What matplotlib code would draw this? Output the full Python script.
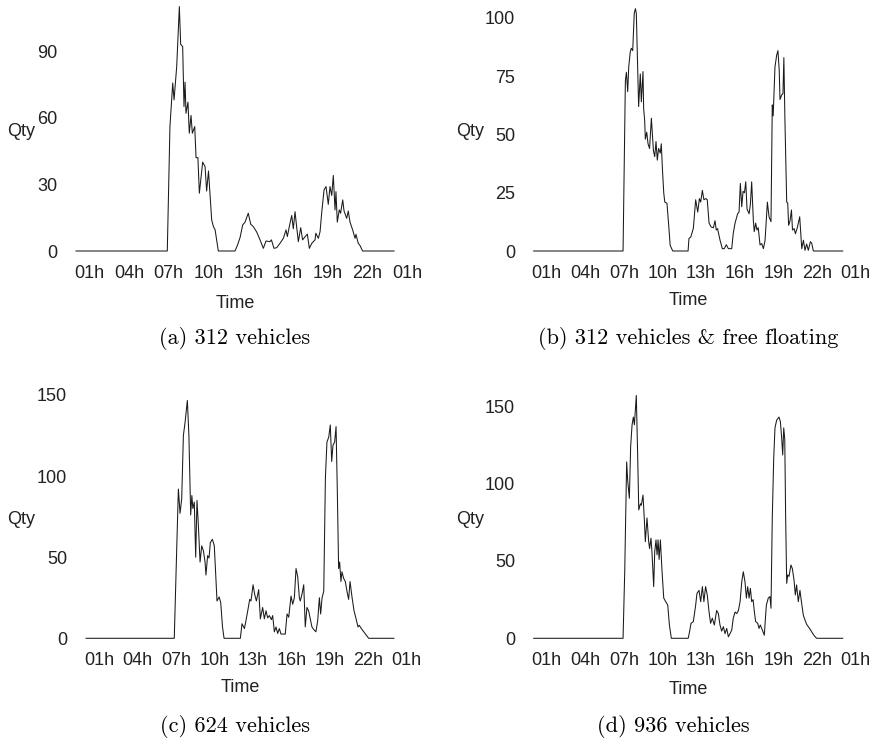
import matplotlib
matplotlib.use("Agg")
import matplotlib.pyplot as plt

# ── data (hour of day, vehicles in use) ──
tick_hours = [1, 4, 7, 10, 13, 16, 19, 22, 25]
tick_labels = ["01h", "04h", "07h", "10h", "13h", "16h", "19h", "22h", "01h"]

a_hours = [0, 6.89, 7.09, 7.3, 7.4, 7.6, 7.8, 7.9, 8.05, 8.15, 8.23, 8.3, 8.45, 8.55, 8.68,
           8.78, 8.96, 9.06, 9.2, 9.31, 9.56, 9.74, 9.86, 10.0, 10.24, 10.37, 10.5, 10.74,
           12.0, 12.18, 12.38, 12.58, 12.76, 13.0, 13.19, 13.38, 13.64, 13.89, 14.14, 14.34,
           14.64, 14.75, 14.94, 15.15, 15.4, 15.65, 15.85, 15.95, 16.15, 16.28, 16.4, 16.53,
           16.66, 16.78, 16.96, 17.1, 17.3, 17.46, 17.61, 17.8, 18.04, 18.1, 18.29, 18.42,
           18.54, 18.72, 18.87, 19.04, 19.17, 19.3, 19.42, 19.55, 19.62, 19.72, 19.87, 19.97,
           20.13, 20.23, 20.43, 20.55, 20.68, 20.88, 21.06, 21.13, 21.3, 21.43, 21.63, 24]
a_qty = [0, 0, 56, 75.6, 68, 83, 110, 93, 92, 65, 76, 62, 67, 53, 61,
         53, 56, 42, 42, 26, 40, 38, 27, 36, 14, 11, 9.5, 0,
         0, 2.5, 6, 11.7, 13, 17, 12, 11, 8.5, 5, 1.2, 4.5,
         4.2, 5, 1.2, 1.5, 3.5, 5.7, 9.5, 6.5, 12.5, 16, 10, 17.7,
         10.5, 4.2, 10.5, 5, 6.5, 7.6, 1.2, 3.5, 5, 8, 5.7, 8.7,
         17, 27.5, 29, 21, 29, 25, 34, 18.5, 26.7, 13, 18.5, 17,
         23, 18, 14.7, 18, 13, 9.5, 5.7, 7.5, 3.5, 2.5, 0, 0]

b_hours = [0, 6.94, 7.12, 7.2, 7.3, 7.38, 7.5, 7.58, 7.69, 7.81, 7.9, 7.97, 8.15, 8.28, 8.36,
           8.49, 8.54, 8.62, 8.67, 8.78, 8.88, 9.0, 9.14, 9.3, 9.4, 9.5, 9.6, 9.7, 9.83, 9.91,
           10.0, 10.1, 10.18, 10.35, 10.5, 10.6, 10.8, 11.99, 12.06, 12.2, 12.4, 12.58, 12.74,
           12.87, 12.97, 13.1, 13.22, 13.38, 13.48, 13.62, 13.78, 13.96, 14.08, 14.18, 14.28,
           14.47, 14.65, 14.8, 14.96, 15.12, 15.38, 15.5, 15.64, 15.84, 15.95, 16.05, 16.16,
           16.26, 16.37, 16.47, 16.57, 16.73, 16.83, 16.93, 17.06, 17.13, 17.24, 17.34, 17.44,
           17.58, 17.71, 17.84, 17.97, 18.15, 18.28, 18.43, 18.53, 18.6, 18.74, 18.87, 18.97,
           19.07, 19.13, 19.26, 19.36, 19.43, 19.51, 19.65, 19.73, 19.8, 19.91, 20.02, 20.1,
           20.23, 20.33, 20.49, 20.66, 20.82, 20.95, 21.07, 21.2, 21.33, 21.49, 21.59, 21.72, 24]
b_qty = [0, 0, 73, 76.7, 68.4, 79, 85.5, 87, 86, 102, 104, 102, 62, 76, 64,
         77, 61, 56, 48, 51, 46, 44, 57, 43, 40.5, 47, 39, 44, 42, 46,
         35, 25, 21, 20.5, 10, 2.4, 0, 0, 5.4, 6, 9.7, 22, 16.7,
         22.5, 21, 26, 22, 22.5, 22, 12, 10.3, 10, 13, 9, 9.6,
         4.7, 1, 1, 2.7, 1, 1, 7.6, 12, 16, 16.7, 29, 19,
         25.6, 25, 29.7, 18, 16, 20, 29.7, 13, 8.3, 12, 9, 10,
         2.6, 3.2, 1, 4.6, 21, 14.6, 12.6, 62.7, 58, 79, 84, 86,
         77.5, 65, 67, 67.5, 83, 57, 21, 20.6, 11, 13, 17.6, 9,
         9.6, 7.4, 10.3, 14.7, 1, 4.6, 0.3, 3, 0.3, 4, 3.4, 0, 0]

c_hours = [0, 6.88, 7.07, 7.2, 7.33, 7.46, 7.59, 7.72, 7.9, 8.02, 8.16, 8.25, 8.33, 8.44, 8.55,
           8.65, 8.75, 8.89, 9.02, 9.15, 9.28, 9.35, 9.48, 9.59, 9.69, 9.85, 10.0, 10.1, 10.21,
           10.38, 10.5, 10.64, 10.76, 12.03, 12.16, 12.35, 12.47, 12.63, 12.76, 12.86, 13.02,
           13.15, 13.28, 13.46, 13.59, 13.77, 13.9, 14.03, 14.16, 14.29, 14.45, 14.55, 14.68,
           14.81, 14.94, 15.07, 15.2, 15.4, 15.53, 15.67, 15.8, 15.98, 16.11, 16.24, 16.37,
           16.5, 16.63, 16.7, 16.83, 16.97, 17.09, 17.22, 17.35, 17.48, 17.61, 17.74, 17.92,
           18.06, 18.19, 18.29, 18.4, 18.53, 18.66, 18.78, 18.92, 19.04, 19.15, 19.25, 19.38,
           19.49, 19.59, 19.69, 19.77, 19.87, 19.95, 20.08, 20.21, 20.34, 20.47, 20.58, 20.74,
           20.89, 21.05, 21.2, 21.3, 21.46, 21.65, 21.91, 22.03, 24]
c_qty = [0, 0, 55, 92, 77, 86, 125, 133, 146.6, 125, 76, 88, 80, 84, 50,
         85, 71, 47, 57, 54, 47, 39, 51, 49.5, 59, 61, 57, 41, 23,
         25.5, 22, 7, 0, 0, 9, 6, 11, 18, 24, 23, 33,
         27, 23, 30, 12, 19, 12, 17, 12.6, 14, 11.5, 14, 4,
         7, 3, 6, 2.6, 2.6, 2.6, 15, 13, 26, 21, 25, 43,
         38, 25, 23, 27, 33, 7, 19, 17, 12, 7, 5.5, 4,
         11, 25, 15, 25, 29, 99, 121, 124, 131.5, 109, 119, 121,
         130.5, 90, 43, 47, 35, 41, 37, 35, 29, 24, 35, 25,
         17, 12, 7, 8, 6, 4, 1.3, 0, 0]

d_hours = [0, 6.94, 7.07, 7.22, 7.3, 7.43, 7.53, 7.64, 7.74, 7.82, 7.97, 8.07, 8.16, 8.29, 8.36,
           8.49, 8.6, 8.67, 8.8, 8.93, 9.0, 9.11, 9.19, 9.32, 9.4, 9.5, 9.58, 9.66, 9.74, 9.84,
           9.97, 10.1, 10.23, 10.41, 10.54, 10.69, 12.0, 12.1, 12.22, 12.4, 12.58, 12.68, 12.84,
           12.97, 13.1, 13.22, 13.35, 13.48, 13.62, 13.74, 13.87, 14.03, 14.21, 14.34, 14.47,
           14.6, 14.73, 14.86, 14.99, 15.12, 15.25, 15.38, 15.5, 15.64, 15.77, 15.9, 16.03,
           16.16, 16.28, 16.41, 16.52, 16.62, 16.73, 16.83, 16.93, 17.04, 17.14, 17.24, 17.4,
           17.5, 17.6, 17.76, 17.91, 18.07, 18.22, 18.35, 18.43, 18.53, 18.64, 18.74, 18.87,
           19.05, 19.16, 19.26, 19.34, 19.42, 19.5, 19.57, 19.65, 19.73, 19.83, 19.98, 20.09,
           20.22, 20.32, 20.42, 20.55, 20.68, 20.81, 20.94, 21.07, 21.2, 21.33, 21.46, 21.59,
           21.72, 21.85, 21.98, 24]
d_qty = [0, 0, 43, 114, 102, 90.5, 124, 138, 143, 138, 157, 120, 83, 87, 86,
         92.6, 75.7, 62.5, 77.8, 62.5, 58, 64.7, 55, 33.4, 56, 63.6, 54, 63.6, 51, 63.6,
         43, 26, 24, 21.5, 8.6, 0, 0, 4, 9.7, 10.8, 21.5, 29, 31,
         23.7, 33.4, 23.7, 33.4, 28, 17, 9.7, 13, 8.6, 18, 16, 8.6,
         4.6, 7.5, 3, 6.4, 1, 3, 5.3, 13, 17, 16, 18, 23.7,
         36.6, 43, 36.6, 26, 33.4, 26, 32.3, 23.7, 25, 17, 10.8, 9.7,
         6.4, 8.6, 5.3, 2, 21.5, 26, 27, 19.4, 77.6, 116, 136, 141,
         143, 140, 129.6, 118.5, 136, 128.6, 77.6, 35.5, 41, 40, 47.4, 45,
         37.6, 28, 34.5, 23.7, 31, 22.6, 15, 11.8, 9, 7.5, 6, 4.2,
         2.5, 1, 0, 0]

a_yticks = [0, 30, 60, 90]
b_yticks = [0, 25, 50, 75, 100]
c_yticks = [0, 50, 100, 150]
d_yticks = [0, 50, 100, 150]

captions = ["(a) 312 vehicles", "(b) 312 vehicles & free floating",
            "(c) 624 vehicles", "(d) 936 vehicles"]

# ── layout, in pixels of the 874x738 canvas ──
W, H = 874, 738
# x of 0h, px per hour, y of qty=0, px per unit, Qty right edge / centre y,
# Time centre x / y, caption centre x / y
layout = [
    (76.0, 13.25, 251.0, 2.222, 35, 131, 235, 303, 235, 339),
    (533.7, 12.875, 251.0, 2.33, 484, 131, 688, 301, 688, 339),
    (86.0, 12.83, 638.3, 1.66, 35, 519, 240, 688, 235, 726),
    (533.7, 12.875, 638.3, 1.547, 484, 519, 688, 689, 673, 726),
]

plt.rcParams['font.family'] = ['Liberation Sans', 'DejaVu Sans']
TXT = '#222222'

fig = plt.figure(figsize=(W / 100, H / 100), dpi=100)

series = [(a_hours, a_qty, a_yticks), (b_hours, b_qty, b_yticks),
          (c_hours, c_qty, c_yticks), (d_hours, d_qty, d_yticks)]

for (hours, qty, yticks), lay, cap in zip(series, layout, captions):
    x0, pph, y0, ppv, qx, qy, tx, ty, cx, cy = lay
    xlo, xhi = 0, 25.4
    ytop = max(qty)
    left = x0 + xlo * pph
    width = (xhi - xlo) * pph
    height = ytop * ppv
    ax = fig.add_axes([left / W, 1 - y0 / H, width / W, height / H])
    ax.plot(hours, qty, color='#1a1a1a', lw=0.75, clip_on=False)
    ax.set_xlim(xlo, xhi)
    ax.set_ylim(0, ytop)
    ax.set_xticks(tick_hours)
    ax.set_xticklabels(tick_labels)
    ax.set_yticks(yticks)
    for s in ax.spines.values():
        s.set_visible(False)
    ax.tick_params(axis='x', length=0, pad=10, labelsize=13, labelcolor=TXT)
    ax.tick_params(axis='y', length=0, pad=13.5, labelsize=13, labelcolor=TXT)
    ax.patch.set_visible(False)

    fig.text(qx / W, 1 - qy / H, "Qty", ha='right', va='center', fontsize=13, color=TXT)
    fig.text(tx / W, 1 - ty / H, "Time", ha='center', va='center', fontsize=13, color=TXT)
    fig.text(cx / W, 1 - cy / H, cap, ha='center', va='center', fontsize=16,
             family=['cmr10', 'DejaVu Serif'], color='black')

fig.savefig("out.png", dpi=100)
